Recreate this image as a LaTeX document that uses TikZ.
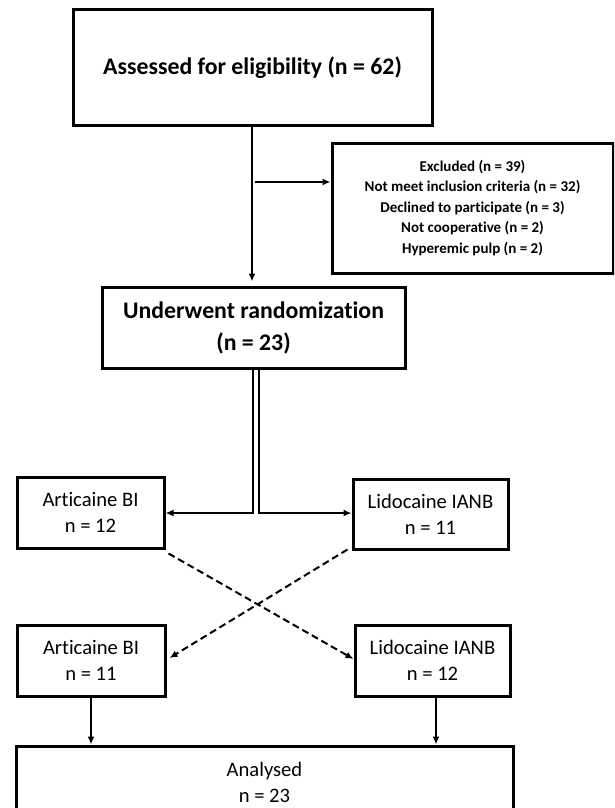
\documentclass[tikz,border=0pt]{standalone}
\usepackage{fontspec}
\setmainfont{Carlito}[Ligatures={NoCommon,NoDiscretionary,NoRare,NoContextual}]
\usetikzlibrary{arrows.meta}
\begin{document}
\begin{tikzpicture}[x=1pt,y=-1pt,
  box/.style={draw=black, line width=3pt, inner sep=0pt, align=center, fill=white},
  bigtxt/.style={font=\fontsize{23.8}{32}\selectfont\bfseries},
  smalltxt/.style={font=\fontsize{15}{20.6}\selectfont\bfseries},
  armtxt/.style={font=\fontsize{20.6}{26}\selectfont},
  conn/.style={line width=2pt, -{Latex[length=8pt,width=7pt]}},
  dsh/.style={conn, dash pattern=on 7pt off 4pt}]
\useasboundingbox (0,0) rectangle (614,808);
\fill[white] (0,0) rectangle (614,808);
\clip (0,0) rectangle (614,808);

\node[box, bigtxt, minimum width=359pt, minimum height=115pt] (top) at (252.5,67.5) {Assessed for eligibility (n = 62)};
\node[box, smalltxt, minimum width=281pt, minimum height=130pt] (excl) at (472.5,208)
  {Excluded (n = 39)\\Not meet inclusion criteria (n = 32)\\Declined to participate (n = 3)\\Not cooperative (n = 2)\\Hyperemic pulp (n = 2)};
\node[box, bigtxt, minimum width=303pt, minimum height=81pt] (rand) at (253.5,327.5) {Underwent randomization\\(n = 23)};

\node[box, armtxt, minimum width=147pt, minimum height=71pt] (art1) at (90.5,512.5) {Articaine BI\\n = 12};
\node[box, armtxt, minimum width=155pt, minimum height=70pt] (lid1) at (430.5,514) {Lidocaine IANB\\n = 11};
\node[box, armtxt, minimum width=148pt, minimum height=71pt] (art2) at (91,660.5) {Articaine BI\\n = 11};
\node[box, armtxt, minimum width=155pt, minimum height=71pt] (lid2) at (432.5,660.5) {Lidocaine IANB\\n = 12};
\node[box, armtxt, minimum width=497pt, minimum height=73pt] (anal) at (264.5,782.5) {Analysed\\n = 23};

% main flow
\coordinate (tx) at (252,0);
\draw[conn, shorten >=4pt] (top.south -| tx) -- (rand.north -| tx);
\coordinate (br) at (255,182);
\draw[conn] (br) -- (br -| excl.west);

% double line to the two arms
\coordinate (dL) at (253,513);
\coordinate (dR) at (259,513);
\draw[conn] (rand.south -| dL) -- (dL) -- (dL -| art1.east);
\draw[conn] (rand.south -| dR) -- (dR) -- (dR -| lid1.west);

% cross-over
\draw[dsh] ([xshift=3pt,yshift=-4pt]art1.south east) -- ([yshift=1.5pt]lid2.west);
\draw[dsh] ([xshift=-4pt,yshift=1pt]lid1.south west) -- ([xshift=3pt,yshift=2.5pt]art2.east);

% to analysis
\draw[conn] (art2.south) -- (art2.south |- anal.north);
\draw[conn] ([xshift=3.5pt]lid2.south) -- ([xshift=3.5pt]lid2.south |- anal.north);
\end{tikzpicture}
\end{document}
